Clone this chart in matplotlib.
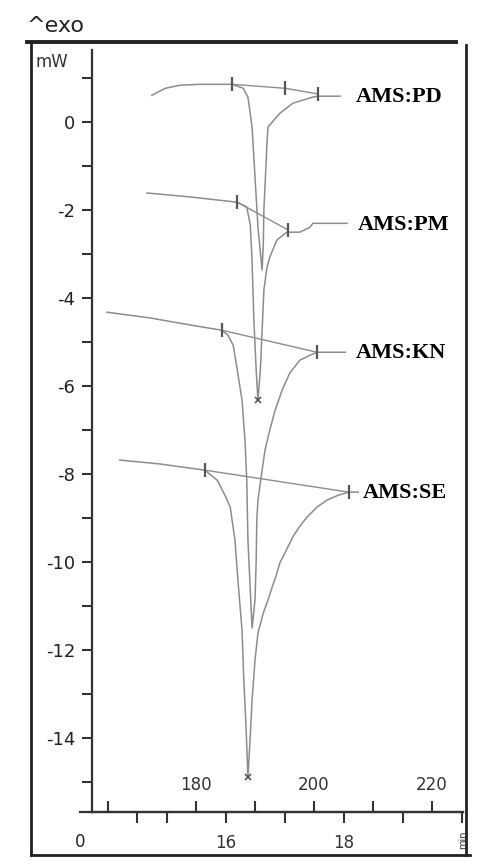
import matplotlib
matplotlib.use('Agg')
import matplotlib.pyplot as plt
from matplotlib.lines import Line2D
from matplotlib.ticker import FixedLocator

plt.rcParams['axes.unicode_minus'] = False

# DSC thermograms, x = temperature (C), y = heat flow (mW)
pd_T = [172.5, 174.8, 177.3, 180.7, 186.1, 188.0, 188.8, 189.5, 190.0, 190.5, 191.2,
        191.4, 191.5, 191.9, 192.0, 192.2, 192.9, 194.2, 196.4, 199.8, 200.7, 204.4]
pd_mW = [0.61, 0.77, 0.84, 0.86, 0.86, 0.77, 0.57, -0.11, -1.25, -2.39, -3.36,
         -2.80, -2.00, -0.86, -0.52, -0.11, 0.0, 0.20, 0.43, 0.57, 0.59, 0.59]

pm_T = [171.7, 179.0, 187.0, 188.6, 189.2, 189.5, 189.8, 190.2, 190.5, 190.9, 191.2,
        191.5, 192.0, 192.5, 193.7, 195.4, 197.6, 199.3, 199.8, 205.6]
pm_mW = [-1.61, -1.70, -1.82, -1.93, -2.34, -3.14, -4.50, -5.64, -6.32, -5.64, -4.73,
         -3.82, -3.32, -3.07, -2.68, -2.50, -2.50, -2.39, -2.30, -2.30]

kn_T = [164.9, 172.2, 179.0, 184.4, 185.4, 186.3, 187.0, 187.8, 188.3, 188.6, 188.8,
        189.2, 189.5, 190.0, 190.2, 190.3, 190.5, 191.2, 191.7, 192.5, 193.4, 194.6,
        195.9, 197.6, 199.3, 200.5, 205.3]
kn_mW = [-4.32, -4.45, -4.61, -4.73, -4.84, -5.07, -5.64, -6.32, -7.23, -8.14, -9.50,
         -10.64, -11.50, -10.86, -9.95, -9.05, -8.59, -7.91, -7.45, -7.00, -6.55, -6.09,
         -5.70, -5.41, -5.30, -5.23, -5.23]

se_T = [167.1, 173.9, 181.5, 183.6, 184.9, 185.8, 186.6, 187.1, 187.8, 188.1, 188.5,
        188.8, 189.2, 189.5, 190.0, 190.5, 191.4, 192.2, 192.9, 193.6, 194.2, 195.3,
        196.4, 197.6, 198.8, 200.5, 202.2, 204.1, 205.9, 207.5]
se_mW = [-7.68, -7.77, -7.91, -8.14, -8.48, -8.75, -9.50, -10.41, -11.55, -12.68, -13.82,
         -14.89, -13.93, -13.14, -12.23, -11.61, -11.16, -10.86, -10.57, -10.30, -10.02, -9.73,
         -9.43, -9.18, -8.98, -8.75, -8.59, -8.48, -8.41, -8.41]

# integration baselines / limits
pd_lim_T = [186.1, 195.1, 200.7]
pd_lim_mW = [0.86, 0.77, 0.64]
pm_lim_T = [187.0, 195.6]
pm_lim_mW = [-1.82, -2.45]
kn_lim_T = [184.4, 200.5]
kn_lim_mW = [-4.73, -5.23]
se_lim_T = [181.5, 205.9]
se_lim_mW = [-7.91, -8.41]

# peak minimum markers
min_T = [190.5, 188.8]
min_mW = [-6.32, -14.89]

labels = ['AMS:PD', 'AMS:PM', 'AMS:KN', 'AMS:SE']
label_T = [207.0, 207.5, 207.0, 208.3]
label_mW = [0.57, -2.33, -5.25, -8.43]

y_major = [0, -2, -4, -6, -8, -10, -12, -14]
y_minor = [1, -1, -3, -5, -7, -9, -11, -13, -15]
temp_major = [180, 200, 220]
temp_minor = [165, 190, 210]
time_major = [16, 18]
time_minor = [14.5, 15, 17, 19, 20]

W, H = 486, 866
fig = plt.figure(figsize=(W / 100, H / 100), dpi=100)
fig.patch.set_facecolor('white')

ax = fig.add_axes([92 / W, 1 - 812 / H, (463 - 92) / W, (812 - 50) / H])
ax.set_xlim(162.37, 225.25)
ax.set_ylim(-15.68, 1.64)

curve_col = '#8c8c8c'
mark_col = '#555555'
for T, mW in [(pd_T, pd_mW), (pm_T, pm_mW), (kn_T, kn_mW), (se_T, se_mW)]:
    ax.plot(T, mW, color=curve_col, lw=1.1)
for T, mW in [(pd_lim_T, pd_lim_mW), (pm_lim_T, pm_lim_mW), (kn_lim_T, kn_lim_mW), (se_lim_T, se_lim_mW)]:
    ax.plot(T, mW, color=curve_col, lw=1.0)
    ax.plot(T, mW, ls='none', marker='|', ms=10, mew=1.6, color=mark_col)
ax.plot(min_T, min_mW, ls='none', marker='x', ms=5, mew=1.2, color=mark_col)

for lab, tx, ty in zip(labels, label_T, label_mW):
    ax.text(tx, ty, lab, fontsize=16, fontweight='bold', family='Liberation Serif',
            va='center', ha='left', color='black')

for s in ['top', 'right']:
    ax.spines[s].set_visible(False)
for s in ['left', 'bottom']:
    ax.spines[s].set_linewidth(1.6)
    ax.spines[s].set_color('#333333')

ax.yaxis.set_major_locator(FixedLocator(y_major))
ax.yaxis.set_minor_locator(FixedLocator(y_minor))
ax.set_yticklabels([str(v) for v in y_major])
ax.tick_params(axis='y', which='both', direction='out', length=7, width=1.5,
               colors='#333333', labelsize=13, pad=5)
for t in ax.get_yticklabels():
    t.set_color('#222222')

# temperature ticks point up with labels above the axis line
ax.xaxis.set_major_locator(FixedLocator(temp_major))
ax.xaxis.set_minor_locator(FixedLocator(temp_minor))
ax.set_xticklabels([str(v) for v in temp_major])
ax.tick_params(axis='x', which='both', direction='in', length=8, width=1.5,
               colors='#333333', labelsize=12, pad=-26)

# time axis (10 K/min heating, T = 25 + 10 t)
sec = ax.secondary_xaxis('bottom', functions=(lambda T: (T - 25) / 10, lambda t: 25 + 10 * t))
sec.spines['bottom'].set_linewidth(1.6)
sec.spines['bottom'].set_color('#333333')
sec.xaxis.set_major_locator(FixedLocator(time_major))
sec.xaxis.set_minor_locator(FixedLocator(time_minor))
sec.set_xticklabels([str(v) for v in time_major])
sec.tick_params(axis='x', which='both', direction='out', length=8, width=1.5,
                colors='#333333', labelsize=12, pad=8)

fig.text(80 / W, 1 - 842 / H, '0', fontsize=12, ha='center', va='center', color='#222222')
fig.text(463 / W, 1 - 840 / H, 'min', fontsize=7, ha='center', va='center',
         rotation=90, color='#333333')

fr = dict(color='#333333', transform=fig.transFigure)
# x axis line continues left of the mW axis
fig.add_artist(Line2D([80 / W, 92 / W], [1 - 812 / H, 1 - 812 / H], lw=1.6, **fr))

# instrument frame
fr = dict(color='#222222', transform=fig.transFigure)
fig.add_artist(Line2D([27 / W, 456 / W], [1 - 42 / H, 1 - 42 / H], lw=2.8, **fr))
fig.add_artist(Line2D([31 / W, 31 / W], [1 - 42 / H, 1 - 855 / H], lw=2.0, **fr))
fig.add_artist(Line2D([31 / W, 470 / W], [1 - 855 / H, 1 - 855 / H], lw=2.0, **fr))
fig.add_artist(Line2D([466 / W, 466 / W], [1 - 45 / H, 1 - 855 / H], lw=2.0, **fr))

fig.text(27 / W, 1 - 26 / H, '^exo', fontsize=16, ha='left', va='center', color='#222222')
fig.text(35 / W, 1 - 62 / H, 'mW', fontsize=12, ha='left', va='center', color='#333333')

fig.savefig('out.png', dpi=100)
